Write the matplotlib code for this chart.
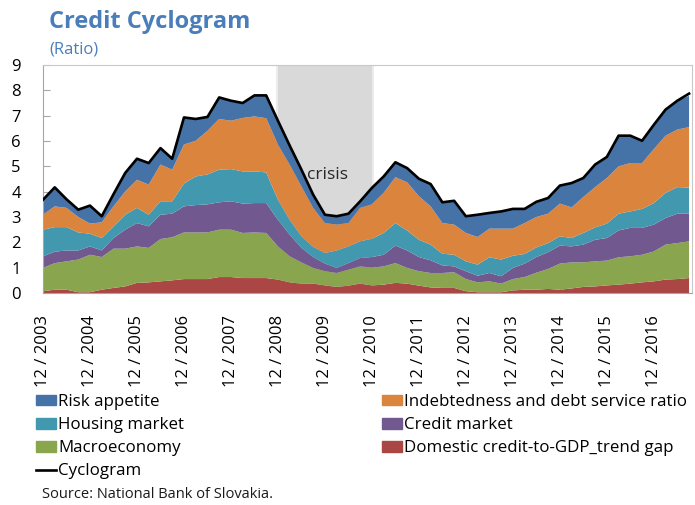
import matplotlib

matplotlib.use("Agg")
import matplotlib.pyplot as plt  # noqa: E402
from matplotlib.lines import Line2D  # noqa: E402
from matplotlib.patches import Patch  # noqa: E402

plt.rcParams["font.family"] = ["Open Sans", "DejaVu Sans"]

# quarterly observations, 12/2003 .. 9/2017
quarters = list(range(56))
year_ticks = list(range(0, 56, 4))
year_labels = [f"12 / {y}" for y in range(2003, 2017)]

credit_gap = [0.07, 0.13, 0.13, 0.03, 0.03, 0.13, 0.20, 0.26, 0.40, 0.42, 0.46, 0.50, 0.55, 0.55,
              0.55, 0.63, 0.63, 0.59, 0.59, 0.59, 0.53, 0.42, 0.37, 0.37, 0.30, 0.24, 0.29, 0.37,
              0.30, 0.33, 0.40, 0.37, 0.29, 0.22, 0.20, 0.20, 0.07, 0.03, 0.03, 0.03, 0.10, 0.13,
              0.13, 0.16, 0.13, 0.18, 0.24, 0.26, 0.30, 0.33, 0.37, 0.42, 0.46, 0.53, 0.55, 0.59]
macroeconomy = [0.92, 1.05, 1.12, 1.29, 1.48, 1.29, 1.55, 1.49, 1.44, 1.36, 1.67, 1.70, 1.84, 1.84,
                1.84, 1.87, 1.87, 1.78, 1.80, 1.78, 1.31, 1.03, 0.84, 0.62, 0.56, 0.55, 0.63, 0.68,
                0.70, 0.72, 0.78, 0.62, 0.57, 0.57, 0.59, 0.62, 0.48, 0.39, 0.43, 0.34, 0.45, 0.50,
                0.67, 0.79, 1.03, 1.03, 0.97, 0.99, 0.98, 1.08, 1.08, 1.09, 1.18, 1.38, 1.42, 1.45]
credit_market = [0.46, 0.45, 0.43, 0.36, 0.33, 0.26, 0.42, 0.75, 0.92, 0.85, 0.96, 0.93, 1.03, 1.08,
                 1.11, 1.08, 1.12, 1.16, 1.16, 1.18, 1.05, 0.85, 0.57, 0.43, 0.30, 0.20, 0.26, 0.33,
                 0.42, 0.46, 0.69, 0.69, 0.56, 0.50, 0.30, 0.23, 0.31, 0.26, 0.33, 0.29, 0.44, 0.53,
                 0.62, 0.66, 0.71, 0.63, 0.70, 0.85, 0.89, 1.06, 1.12, 1.06, 1.06, 1.05, 1.16, 1.09]
housing = [1.05, 0.97, 0.92, 0.71, 0.50, 0.49, 0.46, 0.59, 0.60, 0.46, 0.53, 0.49, 0.90, 1.13,
           1.18, 1.29, 1.27, 1.27, 1.25, 1.21, 0.79, 0.59, 0.46, 0.40, 0.42, 0.69, 0.66, 0.66,
           0.72, 0.86, 0.89, 0.79, 0.68, 0.62, 0.46, 0.46, 0.39, 0.44, 0.62, 0.66, 0.48, 0.38,
           0.38, 0.36, 0.37, 0.33, 0.46, 0.49, 0.57, 0.66, 0.65, 0.75, 0.85, 0.99, 1.05, 1.03]
indebtedness = [0.59, 0.82, 0.76, 0.61, 0.40, 0.62, 0.79, 0.92, 1.11, 1.19, 1.45, 1.25, 1.54, 1.41,
                1.72, 2.00, 1.91, 2.11, 2.17, 2.14, 2.18, 2.18, 1.97, 1.54, 1.18, 1.02, 0.92, 1.32,
                1.36, 1.58, 1.81, 1.90, 1.72, 1.51, 1.21, 1.19, 1.12, 1.09, 1.13, 1.22, 1.07, 1.22,
                1.20, 1.16, 1.29, 1.21, 1.42, 1.59, 1.80, 1.87, 1.91, 1.81, 2.13, 2.26, 2.27, 2.39]
risk_appetite = [0.59, 0.75, 0.34, 0.29, 0.71, 0.24, 0.48, 0.73, 0.83, 0.85, 0.65, 0.43, 1.07, 0.86,
                 0.55, 0.85, 0.79, 0.59, 0.83, 0.90, 0.94, 0.75, 0.66, 0.52, 0.33, 0.33, 0.37, 0.26,
                 0.65, 0.65, 0.59, 0.56, 0.69, 0.88, 0.82, 0.94, 0.66, 0.88, 0.62, 0.68, 0.78, 0.56,
                 0.60, 0.62, 0.71, 0.96, 0.75, 0.89, 0.83, 1.21, 1.08, 0.88, 0.96, 1.03, 1.14, 1.23]
cyclogram = [3.68, 4.17, 3.70, 3.29, 3.45, 3.03, 3.90, 4.74, 5.30, 5.13, 5.72, 5.30, 6.93, 6.87,
             6.95, 7.72, 7.59, 7.50, 7.80, 7.80, 6.80, 5.82, 4.87, 3.88, 3.09, 3.03, 3.13, 3.62,
             4.15, 4.60, 5.16, 4.93, 4.51, 4.30, 3.58, 3.64, 3.03, 3.09, 3.16, 3.22, 3.32, 3.32,
             3.60, 3.75, 4.24, 4.34, 4.54, 5.07, 5.37, 6.21, 6.21, 6.01, 6.64, 7.24, 7.59, 7.87]

names = ["Domestic credit-to-GDP_trend gap", "Macroeconomy", "Credit market",
         "Housing market", "Indebtedness and debt service ratio", "Risk appetite"]
colors = ["#aa4643", "#89a54e", "#71588f", "#4198af", "#db843d", "#4572a7"]

fig = plt.figure(figsize=(6.95, 5.05), dpi=100)
ax = fig.add_axes([43 / 695, 1 - 293 / 505, 649 / 695, 228 / 505])

ax.axvspan(19.8, 28.2, color="#ececec", lw=0, zorder=0)
ax.axvspan(20, 28, color="#d9d9d9", lw=0, zorder=0)
ax.stackplot(quarters, credit_gap, macroeconomy, credit_market, housing, indebtedness,
             risk_appetite, colors=colors, lw=0, zorder=2)
ax.plot(quarters, cyclogram, color="black", lw=1.9, zorder=3)
ax.text(24.2, 4.66, "crisis", fontsize=12.5, color="#262626", ha="center", va="center", zorder=1)

ax.set_xlim(0, 55.25)
ax.set_ylim(0, 9)
ax.set_yticks(range(10))
ax.set_xticks(year_ticks)
ax.set_xticklabels(year_labels, rotation=90)
ax.tick_params(axis="both", direction="in", length=5, color="#a6a6a6", labelsize=12)
ax.tick_params(axis="x", pad=16)
ax.tick_params(axis="y", pad=16)
for side in ("left", "bottom"):
    ax.spines[side].set_color("#a6a6a6")
for side in ("top", "right"):
    ax.spines[side].set_color("#c8c8c8")

fig.text(49 / 695, 1 - 22 / 505, "Credit Cyclogram", fontsize=17, fontweight="bold",
         color="#4a7ebb", va="center")
fig.text(49 / 695, 1 - 49 / 505, "(Ratio)", fontsize=12, color="#4a7ebb", va="center")

left = [Patch(color=colors[5]), Patch(color=colors[3]), Patch(color=colors[1]),
        Line2D([], [], color="black", lw=1.9)]
right = [Patch(color=colors[4]), Patch(color=colors[2]), Patch(color=colors[0])]
style = dict(frameon=False, fontsize=12.2, handlelength=1.2, handleheight=0.6,
             handletextpad=0.1, labelspacing=0.42, borderaxespad=0, borderpad=0)
fig.legend(left, ["Risk appetite", "Housing market", "Macroeconomy", "Cyclogram"],
           loc="upper left", bbox_to_anchor=(36 / 695, 1 - 394 / 505), **style)
fig.legend(right, [names[4], names[2], names[0]],
           loc="upper left", bbox_to_anchor=(382 / 695, 1 - 394 / 505), **style)
fig.text(42 / 695, 1 - 494 / 505, "Source: National Bank of Slovakia.", fontsize=10.5,
         color="#1a1a1a", va="center")

fig.savefig("out.png", dpi=100)
